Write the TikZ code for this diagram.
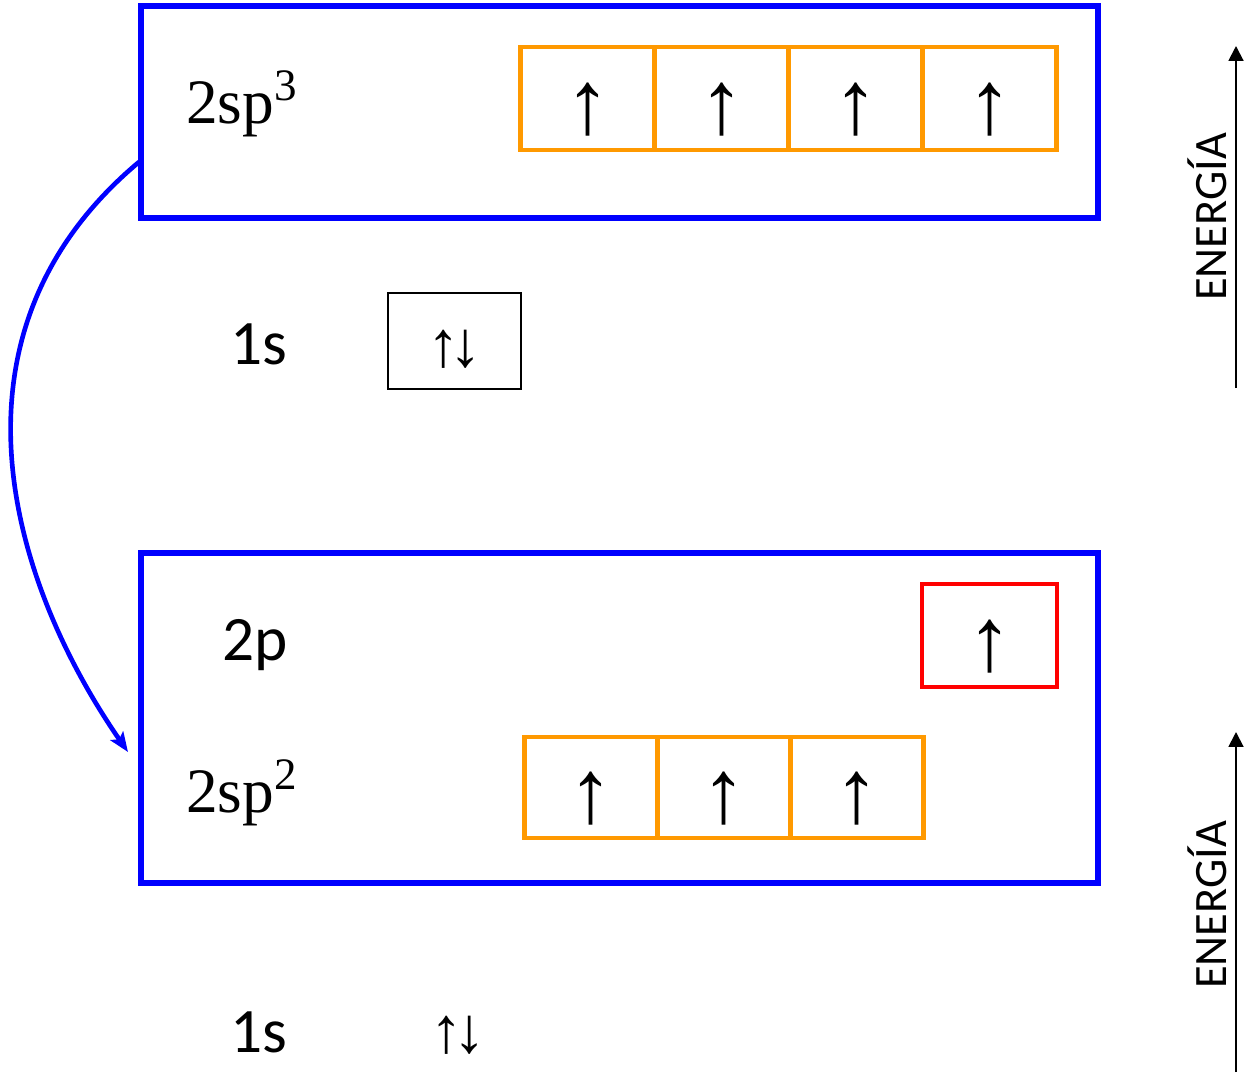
\documentclass[tikz,border=0pt]{standalone}
\usepackage{fontspec}
\setmainfont{Liberation Serif}
\newfontfamily\orbsans{Carlito}
\usepackage{xcolor}
\definecolor{hybblue}{HTML}{0000FF}
\definecolor{hyborange}{HTML}{FF9900}
\definecolor{hybred}{HTML}{FF0000}
\usepackage{tikz}
\usetikzlibrary{arrows.meta,positioning}
\newcommand\orbexp[1]{\raisebox{0.36em}{\fontsize{32}{36}\selectfont#1}}
\newcommand\spinup{\smash{\raisebox{-0.39em}{↑}}}
\newcommand\spinpair{↑\kern-0.15em↓}
\tikzset{
  hybframe/.style={draw=hybblue,line width=4.2pt,minimum width=23.925cm,inner sep=0pt,outer sep=0pt},
  hybcell/.style={draw=hyborange,line width=3.5pt,minimum width=3.35cm,minimum height=2.575cm,inner sep=0pt,outer sep=0pt,font=\fontsize{64}{70}\selectfont},
  spincell/.style={hybcell,draw=hybred,minimum width=3.375cm},
  shellcell/.style={draw,line width=1.4pt,minimum width=3.325cm,minimum height=2.4cm,inner sep=0pt,font=\fontsize{46}{50}\selectfont},
  pairlabel/.style={inner sep=0pt,font=\fontsize{46}{50}\selectfont},
  seriflabel/.style={inner sep=0pt,anchor=base west,font=\fontsize{45}{50}\selectfont},
  sanslabel/.style={inner sep=0pt,anchor=base west,font=\orbsans\fontsize{45}{50}\selectfont},
  enlabel/.style={rotate=90,inner sep=0pt,font=\orbsans\fontsize{33}{36}\selectfont},
  enflow/.style={-{Triangle[length=10.5pt,width=10.5pt]},line width=1.4pt},
  promote/.style={-{Stealth[length=14pt,width=11pt,inset=3pt]},draw=hybblue,line width=3.3pt},
}
\begin{document}
\begin{tikzpicture}[x=0.025cm,y=-0.025cm]
\useasboundingbox (0,0) rectangle (1244,1074);
% excited carbon, sp3
\node[hybframe,minimum height=5.3cm] (sp3frame) at (619.5,112) {};
\node[seriflabel] (sp3lbl) at (186,123) {2sp\orbexp{3}};
\node[hybcell] (sp3a) at (587.5,98.5) {\spinup};
\node[hybcell,right=0pt of sp3a] (sp3b) {\spinup};
\node[hybcell,right=0pt of sp3b] (sp3c) {\spinup};
\node[hybcell,right=0pt of sp3c] (sp3d) {\spinup};
\node[sanslabel] (s1top) at (230,364) {1s};
\node[shellcell] (s1box) at (454.5,341) {\smash{\raisebox{-0.4em}{\spinpair}}};
% sp2 carbon
\node[hybframe,minimum height=8.25cm] (sp2frame) at (619.5,718) {};
\node[sanslabel] (p2lbl) at (222,660) {2p};
\node[spincell] (p2cell) at (989.5,635.5) {\spinup};
\node[seriflabel] (sp2lbl) at (186,812) {2sp\orbexp{2}};
\node[hybcell,minimum width=3.325cm,minimum height=2.525cm] (sp2a) at (591,787.5) {\spinup};
\node[hybcell,minimum width=3.325cm,minimum height=2.525cm,right=0pt of sp2a] (sp2b) {\spinup};
\node[hybcell,minimum width=3.325cm,minimum height=2.525cm,right=0pt of sp2b] (sp2c) {\spinup};
\node[sanslabel] (s1bot) at (230,1052) {1s};
\node[pairlabel] (s1pair) at (458,1035) {\spinpair};
% energy axes
\node[enlabel] (entop) at (1207,217) {ENERGÍA};
\node[enlabel] (enbot) at (1207,905) {ENERGÍA};
\coordinate (entopfoot) at (1236,388);\coordinate (entophead) at (1236,46);
\coordinate (enbotfoot) at (1236,1072);\coordinate (enbothead) at (1236,732);
\draw[enflow](entopfoot)--(entophead);\draw[enflow](enbotfoot)--(enbothead);
\coordinate (hybout) at (139,162);\coordinate (hybin) at (128,752);
\draw[promote](hybout) .. controls (-63,331) and (7,577) .. (hybin);
\end{tikzpicture}
\end{document}
